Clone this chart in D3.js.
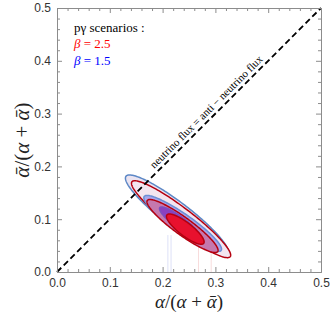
<!DOCTYPE html>
<html><head><meta charset="utf-8">
<script src="https://cdn.jsdelivr.net/npm/d3@7"></script>
<style>body{margin:0;background:#fff}svg{display:block}</style>
</head><body>
<script>
// ---- data ----
const majorTicks = [0, 0.1, 0.2, 0.3, 0.4, 0.5];
const minorTicks = [0.02,0.04,0.06,0.08,0.12,0.14,0.16,0.18,0.22,0.24,0.26,0.28,0.32,0.34,0.36,0.38,0.42,0.44,0.46,0.48];
const levels = ["outer", "middle", "inner"];
// beta = 1.5 (blue) contours: centre x, centre y, semi-major, semi-minor, angle (deg)
const blueCx = [0.2273, 0.2380, 0.2330];
const blueCy = [0.1075, 0.0920, 0.0930];
const blueA  = [0.1216, 0.0890, 0.0480];
const blueB  = [0.0240, 0.0175, 0.0110];
const blueAng = [-37.4, -35.0, -37.0];
// beta = 2.5 (red) contours
const redCx = [0.2350, 0.2377, 0.2430];
const redCy = [0.1000, 0.0871, 0.0812];
const redA  = [0.1170, 0.0824, 0.0440];
const redB  = [0.0210, 0.0165, 0.0125];
const redAng = [-37.3, -36.0, -37.7];
// faint marginal markers
const blueMarks = [0.210, 0.216];
const redMarks = [0.268, 0.292];
const markTop = 0.07;
const diag = [0, 0.5];
const legendTitle = "pγ scenarios :";
const legendLabels = ["β = 2.5", "β = 1.5"];

const W = 332, H = 322;
const svg = d3.select("body").append("svg").attr("width", W).attr("height", H);
const x = d3.scaleLinear([0, 0.5], [57, 321]);
const y = d3.scaleLinear([0, 0.5], [272, 8]);

function ellipse(cx, cy, a, b, angDeg) {
  const th = angDeg * Math.PI / 180, pts = [];
  for (let i = 0; i < 180; i++) {
    const t = i / 180 * 2 * Math.PI;
    pts.push([cx + a * Math.cos(th) * Math.cos(t) - b * Math.sin(th) * Math.sin(t),
              cy + a * Math.sin(th) * Math.cos(t) + b * Math.cos(th) * Math.sin(t)]);
  }
  return pts;
}
const line = d3.line().x(d => x(d[0])).y(d => y(d[1])).curve(d3.curveLinearClosed);

// faint vertical markers
const g0 = svg.append("g");
g0.selectAll(".bm").data(blueMarks).join("line")
  .attr("x1", d => x(d)).attr("x2", d => x(d)).attr("y1", y(0)).attr("y2", y(markTop))
  .attr("stroke", "#dde1f7").attr("stroke-width", 1);
g0.selectAll(".rm").data(redMarks).join("line")
  .attr("x1", d => x(d)).attr("x2", d => x(d)).attr("y1", y(0)).attr("y2", y(markTop))
  .attr("stroke", "#f8dcdc").attr("stroke-width", 1);

const blueFill = ["#ebe4f1", "#a9a6ec", "#8a40c0"];
const blueStroke = ["#5d88c6", "#6b8fd4", "#7a50c0"];
const redFill = ["#f3e5ef", "#c578ae", "#e8112e"];
const redStroke = ["#b5000f", "#b5000f", "#b5000f"];

const gE = svg.append("g");
levels.forEach((lv, i) => {
  gE.append("path").attr("d", line(ellipse(blueCx[i], blueCy[i], blueA[i], blueB[i], blueAng[i])))
    .attr("fill", blueFill[i]).attr("stroke", blueStroke[i]).attr("stroke-width", 1.5);
  gE.append("path").attr("d", line(ellipse(redCx[i], redCy[i], redA[i], redB[i], redAng[i])))
    .attr("fill", redFill[i]).attr("stroke", redStroke[i]).attr("stroke-width", 1.5);
});

const serif = "'Liberation Serif', 'Times New Roman', serif";

// diagonal
svg.append("line").attr("x1", x(diag[0])).attr("y1", y(diag[0])).attr("x2", x(diag[1])).attr("y2", y(diag[1]))
  .attr("stroke", "#000").attr("stroke-width", 1.8).attr("stroke-dasharray", "6,3.5");
const ang = Math.atan2(y(diag[1]) - y(diag[0]), x(diag[1]) - x(diag[0])) * 180 / Math.PI;
svg.append("text").attr("transform", `translate(${x(0.293)},${y(0.293)}) rotate(${ang})`)
  .attr("dy", -4).attr("text-anchor", "middle")
  .style("font-family", serif).attr("font-size", 11).attr("fill", "#000")
  .text("neutrino flux = anti − neutrino flux");

// axes
const frameCol = "#8c8c8c", labCol = "#333";
function styleAx(g) {
  g.selectAll("path.domain").attr("stroke", frameCol).attr("stroke-width", 1);
  g.selectAll(".tick line").attr("stroke", frameCol);
  g.selectAll(".tick text").attr("fill", labCol).style("font-family", "'Liberation Sans', Arial, sans-serif").attr("font-size", 12);
}
const fmt = d3.format(".1f");
svg.append("g").attr("transform", `translate(0,${y(0)})`)
  .call(d3.axisBottom(x).tickValues(majorTicks).tickFormat(fmt).tickSizeInner(-5).tickSizeOuter(0).tickPadding(6)).call(styleAx);
svg.append("g").attr("transform", `translate(0,${y(0)})`)
  .call(d3.axisBottom(x).tickValues(minorTicks).tickFormat("").tickSizeInner(-3).tickSizeOuter(0)).call(styleAx);
svg.append("g").attr("transform", `translate(${x(0)},0)`)
  .call(d3.axisLeft(y).tickValues(majorTicks).tickFormat(fmt).tickSizeInner(-5).tickSizeOuter(0).tickPadding(6)).call(styleAx);
svg.append("g").attr("transform", `translate(${x(0)},0)`)
  .call(d3.axisLeft(y).tickValues(minorTicks).tickFormat("").tickSizeInner(-3).tickSizeOuter(0)).call(styleAx);
svg.append("g").attr("transform", `translate(0,${y(0.5)})`)
  .call(d3.axisTop(x).tickValues(majorTicks).tickFormat("").tickSizeInner(-5).tickSizeOuter(0)).call(styleAx);
svg.append("g").attr("transform", `translate(0,${y(0.5)})`)
  .call(d3.axisTop(x).tickValues(minorTicks).tickFormat("").tickSizeInner(-3).tickSizeOuter(0)).call(styleAx);
svg.append("g").attr("transform", `translate(${x(0.5)},0)`)
  .call(d3.axisRight(y).tickValues(majorTicks).tickFormat("").tickSizeInner(-5).tickSizeOuter(0)).call(styleAx);
svg.append("g").attr("transform", `translate(${x(0.5)},0)`)
  .call(d3.axisRight(y).tickValues(minorTicks).tickFormat("").tickSizeInner(-3).tickSizeOuter(0)).call(styleAx);

// axis titles
const xt = svg.append("text").attr("x", (x(0) + x(0.5)) / 2).attr("y", 308).attr("text-anchor", "middle")
  .style("font-family", serif).attr("font-size", 19).attr("fill", "#222");
xt.append("tspan").attr("font-style", "italic").text("α");
xt.append("tspan").text("/(");
xt.append("tspan").attr("font-style", "italic").text("α");
xt.append("tspan").text(" + ");
xt.append("tspan").attr("font-style", "italic").text("ᾱ");
xt.append("tspan").text(")");

const yt = svg.append("text").attr("transform", `translate(29,${(y(0) + y(0.5)) / 2}) rotate(-90)`)
  .attr("text-anchor", "middle").style("font-family", serif).attr("font-size", 21).attr("fill", "#222");
yt.append("tspan").attr("font-style", "italic").text("ᾱ");
yt.append("tspan").text("/(");
yt.append("tspan").attr("font-style", "italic").text("α");
yt.append("tspan").text(" + ");
yt.append("tspan").attr("font-style", "italic").text("ᾱ");
yt.append("tspan").text(")");

// legend
const lg = svg.append("g").style("font-family", serif).attr("font-size", 13);
lg.append("text").attr("x", 74).attr("y", 32).attr("fill", "#000").text(legendTitle);
const legCols = ["#ff0000", "#0000ff"];
legendLabels.forEach((l, i) => {
  const t = lg.append("text").attr("x", 74).attr("y", 48 + i * 16.5).attr("fill", legCols[i]);
  const parts = l.split(" = ");
  t.append("tspan").attr("font-style", "italic").text(parts[0]);
  t.append("tspan").text(" = " + parts[1]);
});
</script>
</body></html>
